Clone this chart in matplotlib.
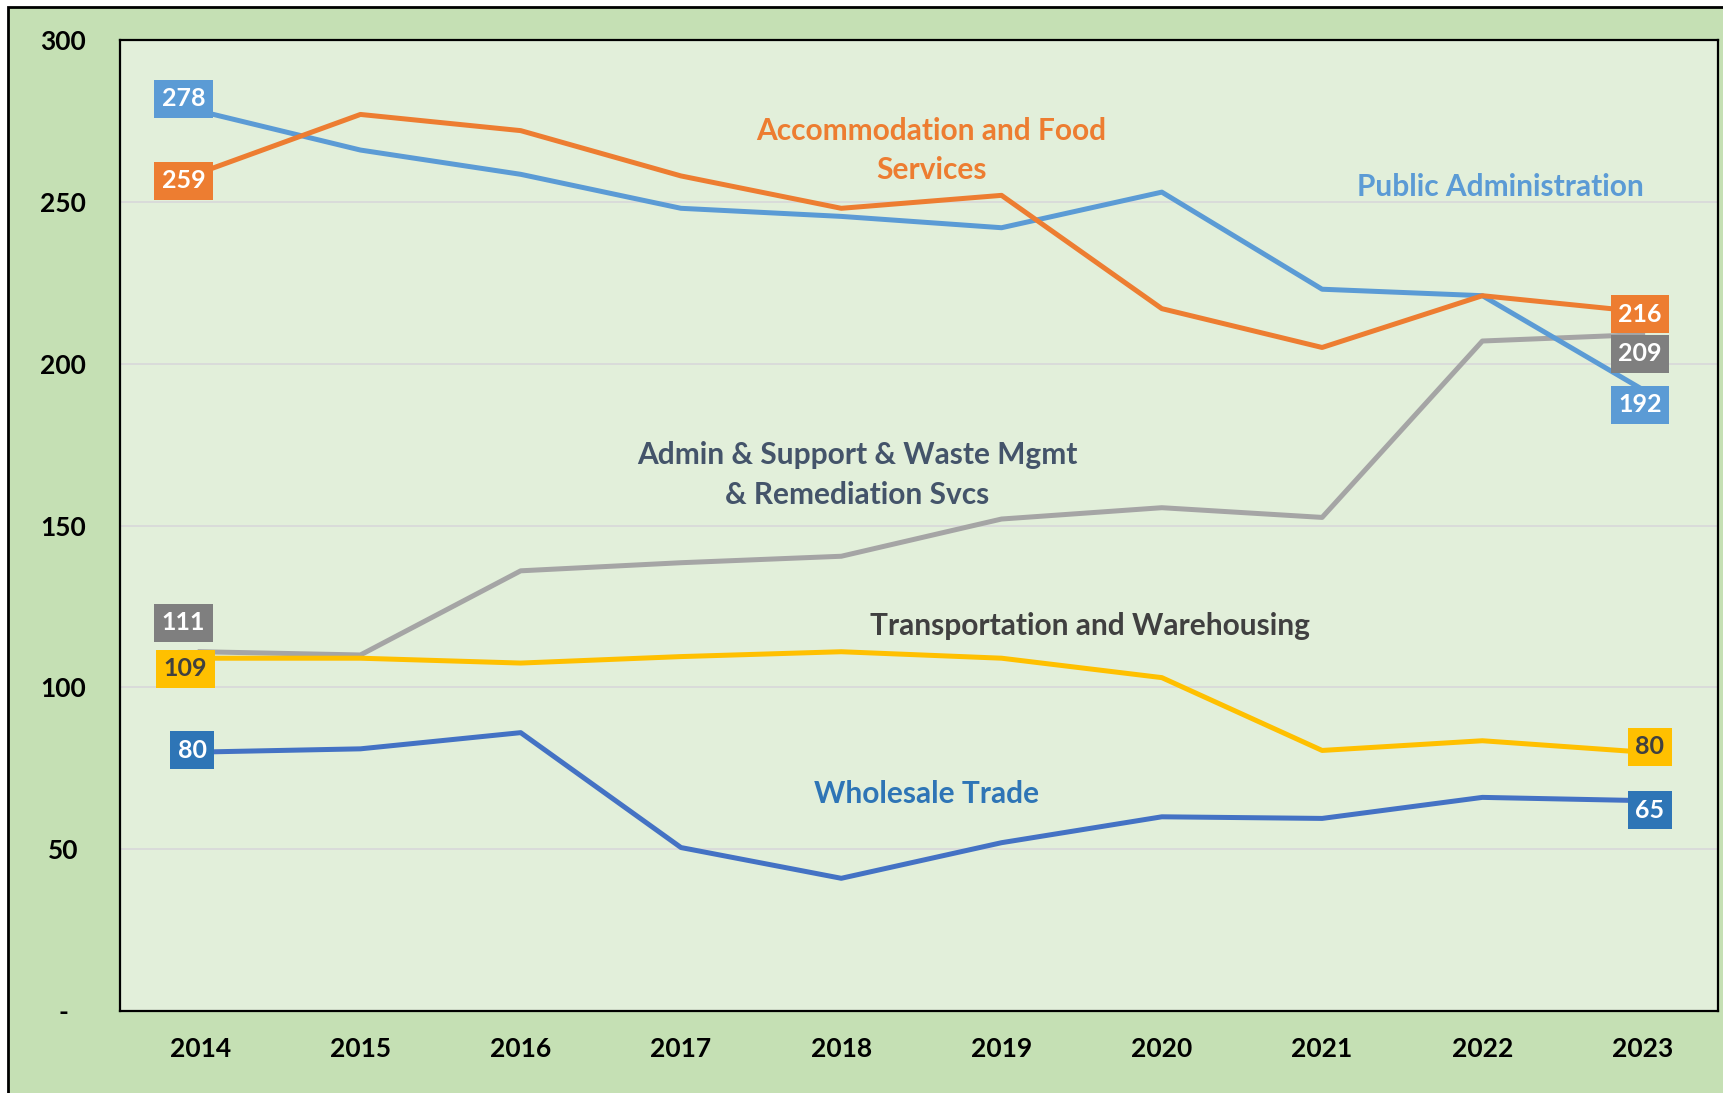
import matplotlib
matplotlib.use("Agg")
import matplotlib.pyplot as plt
from matplotlib.patches import Rectangle

plt.rcParams['font.family'] = ['Lato', 'DejaVu Sans']
plt.rcParams['font.weight'] = 'bold'

years = [2014, 2015, 2016, 2017, 2018, 2019, 2020, 2021, 2022, 2023]

public_admin = [278, 266, 258.5, 248, 245.5, 242, 253, 223, 221, 192]
accommodation = [259, 277, 272, 258, 248, 252, 217, 205, 221, 216]
admin_support = [111, 110, 136, 138.5, 140.5, 152, 155.5, 152.5, 207, 209]
transportation = [109, 109, 107.5, 109.5, 111, 109, 103, 80.5, 83.5, 80]
wholesale = [80, 81, 86, 50.5, 41, 52, 60, 59.5, 66, 65]

y_ticks = [0, 50, 100, 150, 200, 250, 300]
y_tick_labels = ['-', '50', '100', '150', '200', '250', '300']

fig = plt.figure(figsize=(17.23, 10.93), dpi=100, facecolor='white')
# outer green panel with black frame (cut off at right and bottom)
fig.patches.append(Rectangle((8/1723, -0.05), 1.1, 1.05 - 7/1093,
                             transform=fig.transFigure, facecolor='#C5E0B4',
                             edgecolor='black', lw=2, zorder=-10))

ax = fig.add_axes([120/1723, 1 - 1011/1093, (1718 - 120)/1723, (1011 - 40)/1093])
ax.set_facecolor('#E2EFDA')
for s in ax.spines.values():
    s.set_linewidth(1.6)
    s.set_color('black')

ax.set_xlim(2013.5, 2023.47)
ax.set_ylim(0, 300)
ax.set_yticks(y_ticks)
ax.set_yticklabels(y_tick_labels, fontsize=19, fontweight='bold', ha='center')
ax.set_xticks(years)
ax.set_xticklabels([str(y) for y in years], fontsize=19, fontweight='bold')
ax.tick_params(axis='y', length=0, pad=41)
ax.tick_params(axis='x', length=0, pad=19)
ax.grid(axis='y', color='#D9D9D9', lw=1.3)
ax.set_axisbelow(True)

lw = 3.6
ax.plot(years, admin_support, color='#A5A5A5', lw=lw, zorder=2)
ax.plot(years, public_admin, color='#5B9BD5', lw=lw, zorder=3)
ax.plot(years, accommodation, color='#ED7D31', lw=lw, zorder=4)
ax.plot(years, transportation, color='#FFC000', lw=lw, zorder=5)
ax.plot(years, wholesale, color='#4472C4', lw=lw, zorder=6)


def label(x, y, txt, face, tc, dx, dy):
    ax.annotate(txt, (x, y), xytext=(dx, dy), textcoords='offset points',
                ha='center', va='center', fontsize=18, fontweight='bold', color=tc,
                bbox=dict(boxstyle='square,pad=0.3', fc=face, ec='none'), zorder=10)


# first and last values
label(years[0], public_admin[0], '278', '#5B9BD5', 'white', -12, 9)
label(years[0], accommodation[0], '259', '#ED7D31', 'white', -12, -5.8)
label(years[0], admin_support[0], '111', '#7F7F7F', 'white', -12, 21)
label(years[0], transportation[0], '109', '#FFC000', '#404040', -10.5, -7.6)
label(years[0], wholesale[0], '80', '#2E75B6', 'white', -5.8, 1.4)
label(years[-1], accommodation[-1], '216', '#ED7D31', 'white', -1.8, -1.8)
label(years[-1], admin_support[-1], '209', '#7F7F7F', 'white', -1.8, -14)
label(years[-1], public_admin[-1], '192', '#5B9BD5', 'white', -1.8, -10.8)
label(years[-1], transportation[-1], '80', '#FFC000', '#404040', 5, 4)
label(years[-1], wholesale[-1], '65', '#2E75B6', 'white', 5, -6.8)

# series names
tk = dict(ha='center', va='center', fontsize=21.5, fontweight='bold', linespacing=1.5)
ax.text(2018.56, 265.8, 'Accommodation and Food\nServices', color='#ED7D31', **tk)
ax.text(2022.11, 254.6, 'Public Administration', color='#5B9BD5', **tk)
ax.text(2018.10, 165.6, 'Admin & Support & Waste Mgmt\n& Remediation Svcs', color='#44546A', **tk)
ax.text(2019.55, 118.8, 'Transportation and Warehousing', color='#404040', **tk)
ax.text(2018.53, 66.9, 'Wholesale Trade', color='#2E75B6', **tk)

fig.savefig('out.png', dpi=100, facecolor='white')
